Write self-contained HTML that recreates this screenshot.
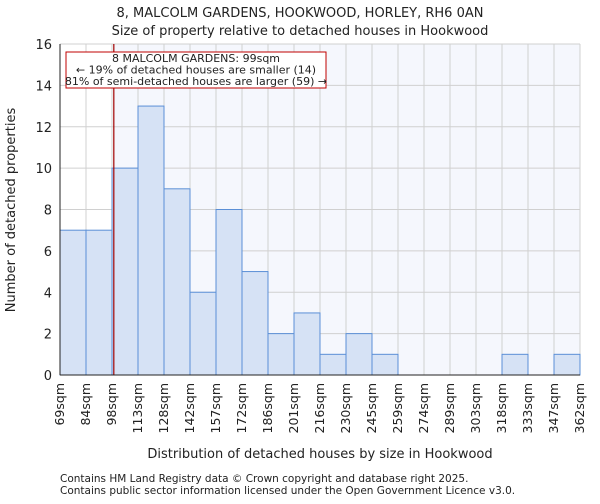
<!DOCTYPE html>
<html><head><meta charset="utf-8"><style>
body{margin:0;background:#fff;font-family:"DejaVu Sans","Liberation Sans",sans-serif}
text{font-family:"DejaVu Sans","Liberation Sans",sans-serif;fill:#222}
</style></head><body>
<svg id="c" width="600" height="500"></svg>
<script>
const categories=["69sqm","84sqm","98sqm","113sqm","128sqm","142sqm","157sqm","172sqm","186sqm","201sqm","216sqm","230sqm","245sqm","259sqm","274sqm","289sqm","303sqm","318sqm","333sqm","347sqm","362sqm"];
const counts=[7,7,10,13,9,4,8,5,2,3,1,2,1,0,0,0,0,1,0,1];
const yTicks=[0,2,4,6,8,10,12,14,16];
const propertyBin=2.07;
const svg=document.getElementById('c');const NS='http://www.w3.org/2000/svg';
const L=60,R=580,T=44,B=375,yMax=16;
const x=i=>L+(R-L)*i/counts.length;
const y=v=>B-(B-T)*v/yMax;
function mk(t,a,txt){const e=document.createElementNS(NS,t);for(const k in a)e.setAttribute(k,a[k]);if(txt!=null)e.textContent=txt;svg.appendChild(e);return e;}
let e;
e=mk('rect',{x:L,y:T,width:R-L,height:B-T,fill:'#f5f7fd'});


e=mk('rect',{x:L,y:T,width:x(propertyBin)-L,height:B-T,fill:'#ffffff'});


yTicks.forEach(v=>{e=mk('line',{x1:L,x2:R,y1:y(v),y2:y(v),stroke:'#d0d0d0','stroke-width':1});


e=mk('text',{x:L-8,y:y(v)+5,'text-anchor':'end','font-size':13},v);

});
categories.forEach((c,i)=>{e=mk('line',{x1:x(i),x2:x(i),y1:T,y2:B,stroke:'#d0d0d0','stroke-width':1});


const tx=x(i)+4,ty=B+8;
e=mk('text',{x:tx,y:ty,'text-anchor':'end','font-size':12.5,transform:`rotate(-90 ${tx} ${ty})`},c);

});
counts.forEach((v,i)=>{if(v<=0)return;e=mk('rect',{x:x(i),y:y(v),width:x(i+1)-x(i),height:B-y(v),fill:'#d6e2f5',stroke:'#5b8fd6','stroke-width':1});

});
e=mk('line',{x1:x(propertyBin),x2:x(propertyBin),y1:T,y2:B,stroke:'#a00000','stroke-width':1.2});


e=mk('rect',{x:66,y:52,width:260,height:36,fill:'#fff',stroke:'#c00000','stroke-width':1});


["8 MALCOLM GARDENS: 99sqm","← 19% of detached houses are smaller (14)","81% of semi-detached houses are larger (59) →"].forEach((t,i)=>{e=mk('text',{x:196,y:62+i*11.5,'text-anchor':'middle','font-size':11},t);

});
e=mk('line',{x1:L,x2:L,y1:T,y2:B,stroke:'#222'});
e=mk('line',{x1:L,x2:R,y1:B,y2:B,stroke:'#222'});
e=mk('text',{x:300,y:17,'text-anchor':'middle','font-size':13},'8, MALCOLM GARDENS, HOOKWOOD, HORLEY, RH6 0AN');
e=mk('text',{x:300,y:35,'text-anchor':'middle','font-size':13},'Size of property relative to detached houses in Hookwood');
e=mk('text',{x:15,y:210,'text-anchor':'middle','font-size':13,transform:'rotate(-90 15 210)'},'Number of detached properties');
e=mk('text',{x:320,y:458,'text-anchor':'middle','font-size':13},'Distribution of detached houses by size in Hookwood');
e=mk('text',{x:60,y:482,'font-size':10.5},'Contains HM Land Registry data © Crown copyright and database right 2025.');
e=mk('text',{x:60,y:494,'font-size':10.5},'Contains public sector information licensed under the Open Government Licence v3.0.');
</script></body></html>
